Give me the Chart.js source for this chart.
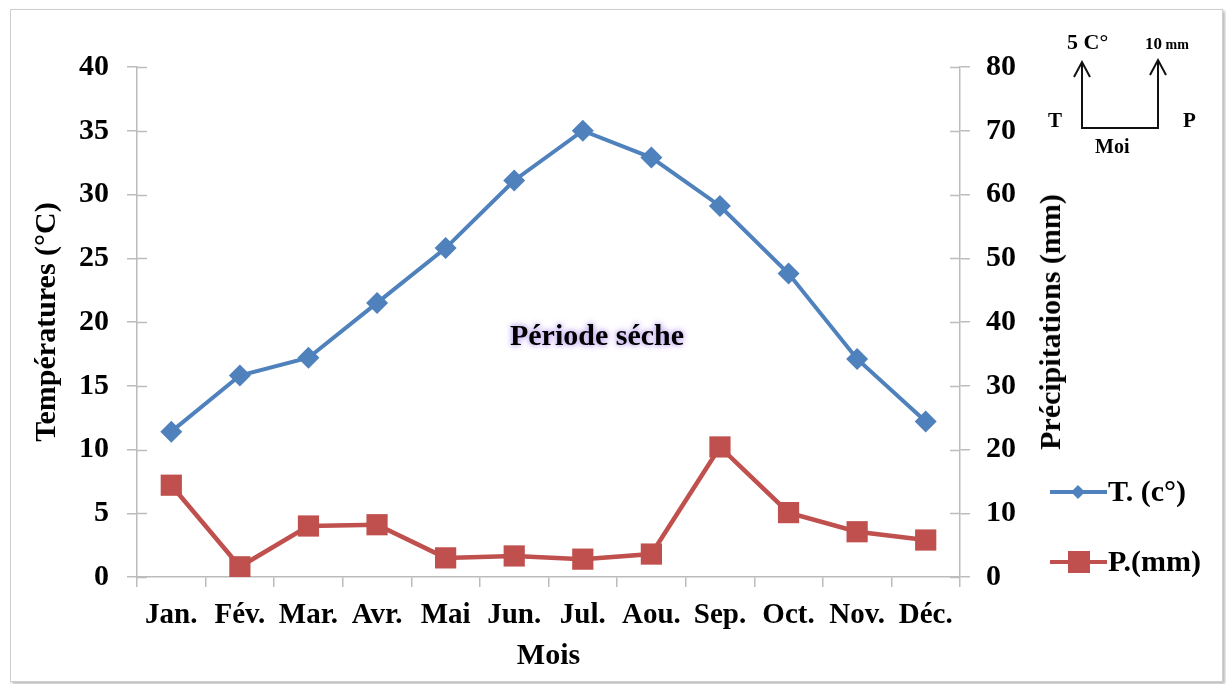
<!DOCTYPE html>
<html>
<head>
<meta charset="utf-8">
<script src="https://cdn.jsdelivr.net/npm/chart.js@4.4.1/dist/chart.umd.min.js"></script>
<style>
  html, body { margin: 0; padding: 0; background: #ffffff; }
  body { width: 1226px; height: 684px; position: relative; overflow: hidden;
         font-family: "Liberation Serif", "Times New Roman", serif; font-weight: bold; color: #000; }
  #frame { position: absolute; left: 10px; top: 9px; width: 1211px; height: 671px;
           border: 1px solid #cfcfcf; background: #fff;
           box-shadow: 2px 2px 3px rgba(0,0,0,0.28); }
  #c { position: absolute; left: 0; top: 0; }
  .t { position: absolute; white-space: nowrap; line-height: 1; }
</style>
</head>
<body>
<div id="frame"></div>
<canvas id="c" width="1226" height="684"></canvas>

<div class="t" id="ptitle" style="left:1050px; top:322px; font-size:30px; transform: translate(-50%,-50%) rotate(-90deg);">Précipitations (mm)</div>

<div class="t" style="left:597px; top:335px; font-size:30px; transform: translate(-50%,-50%);
     text-shadow: 0 0 4px #cbb8f2, 0 0 6px #cbb8f2, 0 0 9px #d6c8f4;">Période séche</div>

<!-- small reading key, top right -->
<svg style="position:absolute; left:0; top:0;" width="1226" height="684">
  <g stroke="#111" stroke-width="2" fill="none">
    <polyline points="1082,62 1082,128 1158,128 1158,60"/>
    <polyline points="1074,77 1082,62 1090,77"/>
    <polyline points="1150,75 1158,60 1166,75"/>
  </g>
</svg>
<div class="t" style="left:1067px; top:31px; font-size:22px;">5 C°</div>
<div class="t" style="left:1145px; top:35px; font-size:17px;">10<span style="font-size:14px;"> mm</span></div>
<div class="t" style="left:1048px; top:110px; font-size:21px;">T</div>
<div class="t" style="left:1183px; top:110px; font-size:21px;">P</div>
<div class="t" style="left:1095px; top:136px; font-size:20px;">Moi</div>

<!-- legend -->
<div id="legend"></div>

<script>
// ---- data ----
const months = ['Jan.', 'Fév.', 'Mar.', 'Avr.', 'Mai', 'Jun.', 'Jul.', 'Aou.', 'Sep.', 'Oct.', 'Nov.', 'Déc.'];
const temperature = [11.4, 15.8, 17.2, 21.5, 25.8, 31.1, 35.0, 32.9, 29.1, 23.8, 17.1, 12.2];
const precipitation = [14.4, 1.6, 8.0, 8.2, 3.0, 3.3, 2.8, 3.6, 20.4, 10.1, 7.1, 5.8];
const tempLabel = 'T. (c°)';
const precLabel = 'P.(mm)';
const tempAxis = { min: 0, max: 40, step: 5 };
const precAxis = { min: 0, max: 80, step: 10 };

const BLUE = '#4F81BD';
const RED = '#C0504D';
const AXIS = '#bcbcbc';
const FONT = '"Liberation Serif", "Times New Roman", serif';

// inner halves of the y-axis tick marks (ticks cross the axis line)
const innerTicks = {
  id: 'innerTicks',
  afterDraw(chart) {
    const ctx = chart.ctx;
    ctx.save();
    ctx.strokeStyle = AXIS;
    ctx.lineWidth = 1.5;
    ['y', 'y1'].forEach(id => {
      const s = chart.scales[id];
      const x0 = id === 'y' ? chart.chartArea.left : chart.chartArea.right;
      const dir = id === 'y' ? 1 : -1;
      s.ticks.forEach(t => {
        const py = Math.round(s.getPixelForValue(t.value)) + 0.5;
        ctx.beginPath();
        ctx.moveTo(x0, py);
        ctx.lineTo(x0 + dir * 10, py);
        ctx.stroke();
      });
    });
    ctx.restore();
  }
};

new Chart(document.getElementById('c'), {
  type: 'line',
  data: {
    labels: months,
    datasets: [
      {
        label: tempLabel, data: temperature, yAxisID: 'y',
        borderColor: BLUE, backgroundColor: BLUE, borderWidth: 4,
        pointStyle: 'rectRot', pointRadius: 11, pointHoverRadius: 11,
        pointBorderWidth: 0, tension: 0
      },
      {
        label: precLabel, data: precipitation, yAxisID: 'y1',
        borderColor: RED, backgroundColor: RED, borderWidth: 4.5,
        pointStyle: 'rect', pointRadius: 15, pointHoverRadius: 15,
        pointBorderWidth: 0, tension: 0
      }
    ]
  },
  options: {
    responsive: false,
    animation: false,
    devicePixelRatio: 1,
    layout: { padding: { top: 67, left: 0, right: 0, bottom: 0 } },
    plugins: { legend: { display: false }, tooltip: { enabled: false } },
    scales: {
      x: {
        offset: true,
        afterFit: s => { s.height = 107; },
        grid: { display: true, drawOnChartArea: false, drawTicks: true, tickLength: 10,
                offset: true, color: AXIS, lineWidth: 1.5 },
        border: { display: true, color: AXIS, width: 1.5 },
        ticks: { color: '#000', font: { family: FONT, size: 29, weight: 'bold' },
                 padding: 11, maxRotation: 0, autoSkip: false },
        title: { display: true, text: 'Mois', color: '#000',
                 font: { family: FONT, size: 30, weight: 'bold' }, padding: { top: 0, bottom: 10 } }
      },
      y: {
        position: 'left',
        min: tempAxis.min, max: tempAxis.max,
        afterFit: s => { s.width = 137; },
        grid: { display: true, drawOnChartArea: false, drawTicks: true, tickLength: 10,
                color: AXIS, lineWidth: 1.5 },
        border: { display: true, color: AXIS, width: 1.5 },
        ticks: { stepSize: tempAxis.step, color: '#000', padding: 18,
                 font: { family: FONT, size: 30, weight: 'bold' } },
        title: { display: true, text: 'Températures (°C)', color: '#000',
                 font: { family: FONT, size: 30, weight: 'bold' }, padding: { top: 29, bottom: 0 } }
      },
      y1: {
        position: 'right',
        min: precAxis.min, max: precAxis.max,
        afterFit: s => { s.width = 266; },
        grid: { display: true, drawOnChartArea: false, drawTicks: true, tickLength: 10,
                color: AXIS, lineWidth: 1.5 },
        border: { display: true, color: AXIS, width: 1.5 },
        ticks: { stepSize: precAxis.step, color: '#000', padding: 16,
                 font: { family: FONT, size: 30, weight: 'bold' } }
      }
    }
  },
  plugins: [innerTicks]
});

// legend (built from the dataset labels and colours)
const legend = document.getElementById('legend');
[
  { label: tempLabel, color: BLUE, marker: 'diamond', y: 492 },
  { label: precLabel, color: RED, marker: 'square', y: 562 }
].forEach(item => {
  const svg = document.createElementNS('http://www.w3.org/2000/svg', 'svg');
  svg.setAttribute('width', '60'); svg.setAttribute('height', '26');
  svg.style.position = 'absolute';
  svg.style.left = '1049px';
  svg.style.top = (item.y - 13) + 'px';
  let m;
  if (item.marker === 'diamond') {
    m = '<polygon points="29,6 36,13 29,20 22,13" fill="' + item.color + '"/>';
  } else {
    m = '<rect x="19" y="2" width="22" height="22" fill="' + item.color + '"/>';
  }
  svg.innerHTML = '<line x1="1" y1="13" x2="58" y2="13" stroke="' + item.color + '" stroke-width="4"/>' + m;
  legend.appendChild(svg);
  const d = document.createElement('div');
  d.className = 't';
  d.style.left = '1108px';
  d.style.top = item.y + 'px';
  d.style.fontSize = '30px';
  d.style.transform = 'translateY(-55%)';
  d.textContent = item.label;
  legend.appendChild(d);
});
</script>
</body>
</html>
